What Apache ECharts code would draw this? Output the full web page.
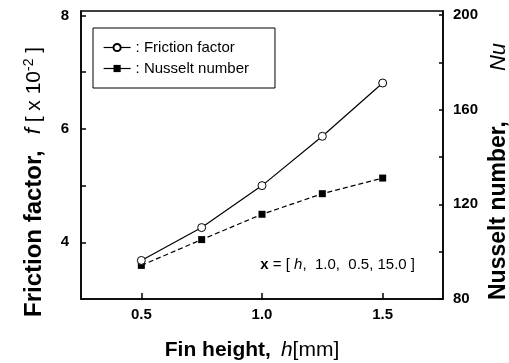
<!DOCTYPE html>
<html>
<head>
<meta charset="utf-8">
<script src="https://cdn.jsdelivr.net/npm/echarts@6/dist/echarts.min.js"></script>
<style>
  html, body { margin: 0; padding: 0; background: #fff; }
  #main { width: 509px; height: 363px; }
</style>
</head>
<body>
<div id="main"></div>
<script>
// data
var finHeight = [0.5, 0.75, 1.0, 1.25, 1.5];
var friction = [3.68, 4.26, 5.0, 5.87, 6.81];     // f x 10^-2
var nusselt = [94.2, 105.1, 115.8, 124.5, 131.1];  // Nu

var xTicks = [0.5, 1.0, 1.5];
var fTicks = [4, 5, 6, 7, 8];
var fLabels = [4, 6, 8];
var nuTicks = [80, 100, 120, 140, 160, 180, 200];
var nuLabels = [80, 120, 160, 200];

var FONT = '"Liberation Sans", Arial, sans-serif';

function pairs(xs, ys) {
  var out = [];
  for (var i = 0; i < xs.length; i++) out.push([xs[i], ys[i]]);
  return out;
}

var myChart = echarts.init(document.getElementById('main'));

var option = {
  animation: false,
  backgroundColor: '#fff',
  textStyle: { fontFamily: FONT, color: '#000' },
  grid: {
    left: 81, right: 66, top: 11, bottom: 64,
    show: true, borderColor: '#000', borderWidth: 1.5
  },
  legend: {
    left: 93, top: 28,
    orient: 'vertical',
    itemWidth: 27, itemHeight: 9, itemGap: 6,
    padding: [12, 26, 12, 10],
    borderColor: '#000', borderWidth: 1,
    textStyle: { fontFamily: FONT, fontSize: 15, color: '#000' },
    formatter: function (name) { return ': ' + name; },
    lineStyle: { type: 'solid', color: '#000', width: 1.2 },
    data: ['Friction factor', 'Nusselt number']
  },
  xAxis: {
    type: 'value', min: 0.25, max: 1.75,
    splitLine: { show: false },
    axisLine: { lineStyle: { color: '#000', width: 1.5 } },
    axisTick: { inside: true, length: 6, customValues: xTicks, lineStyle: { color: '#000', width: 1.5 } },
    axisLabel: {
      customValues: xTicks, margin: 8,
      fontFamily: FONT, fontSize: 15, fontWeight: 'bold', color: '#000',
      formatter: function (v) { return v.toFixed(1); }
    }
  },
  yAxis: [
    {
      type: 'value', min: 3, max: 8.08, position: 'left',
      splitLine: { show: false },
      axisLine: { show: true, lineStyle: { color: '#000', width: 1.5 } },
      axisTick: { inside: true, length: 5, customValues: fTicks, lineStyle: { color: '#000', width: 1.5 } },
      axisLabel: {
        customValues: fLabels, margin: 12,
        fontFamily: FONT, fontSize: 15, fontWeight: 'bold', color: '#000'
      }
    },
    {
      type: 'value', min: 80, max: 201.7, position: 'right',
      splitLine: { show: false },
      axisLine: { show: true, lineStyle: { color: '#000', width: 1.5 } },
      axisTick: { inside: true, length: 4, customValues: nuTicks, lineStyle: { color: '#000', width: 1.5 } },
      axisLabel: {
        customValues: nuLabels, margin: 10,
        fontFamily: FONT, fontSize: 15, fontWeight: 'bold', color: '#000'
      }
    }
  ],
  series: [
    {
      name: 'Friction factor',
      type: 'line',
      yAxisIndex: 0,
      data: pairs(finHeight, friction),
      symbol: 'circle', symbolSize: 8,
      lineStyle: { color: '#000', width: 1.2 },
      itemStyle: { color: '#fff', borderColor: '#000', borderWidth: 1 },
      z: 3
    },
    {
      name: 'Nusselt number',
      type: 'line',
      yAxisIndex: 1,
      data: pairs(finHeight, nusselt),
      symbol: 'rect', symbolSize: 7,
      lineStyle: { color: '#000', width: 1.2, type: [5, 3] },
      itemStyle: { color: '#000', borderColor: '#000', borderWidth: 0 },
      z: 2
    }
  ],
  graphic: [
    {
      // left axis title, reads bottom to top
      type: 'text',
      x: 34, y: 317, rotation: Math.PI / 2,
      style: {
        text: '{b|Friction factor,}{g| }{i|f}{n| [ x 10}{s|-2}{n| ]}',
        align: 'left', verticalAlign: 'middle',
        rich: {
          b: { fontFamily: FONT, fontSize: 24, fontWeight: 'bold', fill: '#000' },
          g: { fontFamily: FONT, fontSize: 24, width: 16 },
          i: { fontFamily: FONT, fontSize: 22, fontStyle: 'italic', fill: '#000' },
          n: { fontFamily: FONT, fontSize: 21, fill: '#000' },
          s: { fontFamily: FONT, fontSize: 14, fill: '#000', verticalAlign: 'top' }
        }
      }
    },
    {
      // right axis title
      type: 'text',
      x: 499, y: 300, rotation: Math.PI / 2,
      style: {
        text: '{b|Nusselt number,}{g| }{i|Nu}',
        align: 'left', verticalAlign: 'middle',
        rich: {
          b: { fontFamily: FONT, fontSize: 23, fontWeight: 'bold', fill: '#000' },
          g: { fontFamily: FONT, fontSize: 23, width: 50 },
          i: { fontFamily: FONT, fontSize: 22, fontStyle: 'italic', fill: '#000' }
        }
      }
    },
    {
      type: 'text',
      x: 252, y: 350,
      style: {
        text: '{b|Fin height,}   {i|h}{n|[mm]}',
        align: 'center', verticalAlign: 'middle',
        rich: {
          b: { fontFamily: FONT, fontSize: 21, fontWeight: 'bold', fill: '#000' },
          i: { fontFamily: FONT, fontSize: 21, fontStyle: 'italic', fill: '#000' },
          n: { fontFamily: FONT, fontSize: 21, fill: '#000' }
        }
      }
    },
    {
      type: 'text',
      x: 415, y: 265,
      style: {
        text: '{b|x} = [ {i|h},  1.0,  0.5, 15.0 ]',
        align: 'right', verticalAlign: 'middle',
        fontFamily: FONT, fontSize: 15, fill: '#000',
        rich: {
          b: { fontFamily: FONT, fontSize: 15, fontWeight: 'bold', fill: '#000' },
          i: { fontFamily: FONT, fontSize: 15, fontStyle: 'italic', fill: '#000' }
        }
      }
    }
  ]
};

myChart.setOption(option);
</script>
</body>
</html>
